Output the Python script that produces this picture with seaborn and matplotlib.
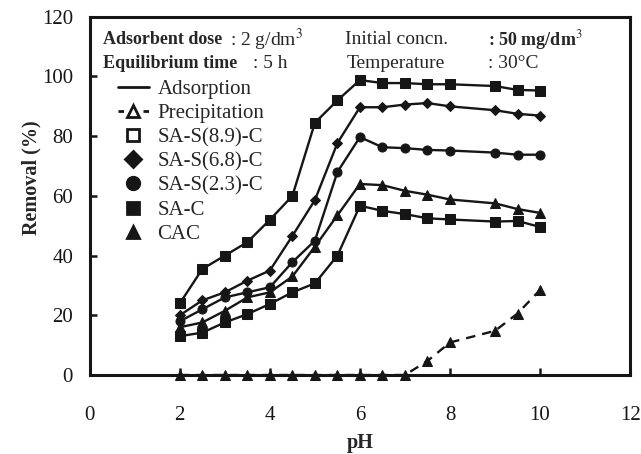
import matplotlib
matplotlib.use("Agg")
import matplotlib.pyplot as plt
from matplotlib.lines import Line2D
import seaborn as sns
import pandas as pd

# pH values where removal was measured
ph = [2, 2.5, 3, 3.5, 4, 4.5, 5, 5.5, 6, 6.5, 7, 7.5, 8, 9, 9.5, 10]

# adsorption curves (% removal)
sa_s89 = [24, 35.5, 40, 44.5, 52, 60, 84.5, 92, 98.8, 97.8, 97.8, 97.4, 97.4, 96.8, 95.5, 95.3]
sa_s68 = [20, 25, 27.7, 31.6, 35, 46.6, 58.6, 77.7, 89.7, 89.7, 90.6, 91.1, 90.0, 88.7, 87.5, 86.9]
sa_s23 = [18, 22, 26, 27.7, 29.4, 37.8, 45, 68, 79.7, 76.3, 76.0, 75.4, 75.2, 74.5, 73.8, 73.8]
cac = [16, 17.6, 21.5, 26, 27.7, 33, 43, 53.5, 64.0, 63.6, 61.7, 60.4, 58.8, 57.5, 55.6, 54.3]
sa_c = [13, 14.2, 17.6, 20.4, 23.8, 27.7, 30.7, 40, 56.7, 55.0, 53.9, 52.5, 52.1, 51.4, 51.6, 49.6]

# precipitation (no adsorbent)
precip = [0, 0, 0, 0, 0, 0, 0, 0, 0, 0, 0, 4.7, 10.9, 14.8, 20.6, 28.5]

names = ["SA-S(8.9)-C", "SA-S(6.8)-C", "SA-S(2.3)-C", "CAC", "SA-C"]
series = [sa_s89, sa_s68, sa_s23, cac, sa_c]
markers = ["s", "D", "o", "^", "s"]

legend_names = ["SA-S(8.9)-C", "SA-S(6.8)-C", "SA-S(2.3)-C", "SA-C", "CAC"]
legend_markers = ["s", "D", "o", "s", "^"]

ink = "#161616"

sns.set_style("ticks")
plt.rcParams["font.family"] = ["Liberation Serif", "DejaVu Serif"]
plt.rcParams["mathtext.fontset"] = "stix"

fig = plt.figure(figsize=(6.41, 4.54), dpi=100)
ax = fig.add_axes([0.140, 0.174, 0.843, 0.789])

for name, vals, mk in zip(names, series, markers):
    df = pd.DataFrame({"pH": ph, "Removal": vals})
    sns.lineplot(data=df, x="pH", y="Removal", ax=ax, color=ink, lw=1.7,
                 marker=mk, markersize=6.5 if mk != "D" else 5.5,
                 markeredgecolor=ink, markerfacecolor=ink)

df_p = pd.DataFrame({"pH": ph, "Removal": precip})
sns.lineplot(data=df_p, x="pH", y="Removal", ax=ax, color=ink, lw=1.7,
             linestyle=(0, (4, 3)), marker="^", markersize=6.5,
             markeredgecolor=ink, markerfacecolor=ink, clip_on=False)

ax.set_xlim(0, 12)
ax.set_ylim(0, 120)
ax.set_xticks(range(0, 13, 2))
ax.set_yticks(range(0, 121, 20))
for s in ax.spines.values():
    s.set_linewidth(2.2)
    s.set_color(ink)
    s.set_visible(True)
ax.tick_params(direction="in", length=5, width=1.8, colors=ink, labelsize=15)
ax.tick_params(axis="x", pad=22)
ax.tick_params(axis="y", pad=12)
ax.set_xlabel("pH", fontsize=14.5, fontweight="bold", labelpad=6)
ax.set_ylabel("Removal (%)", fontsize=14.5, fontweight="bold")
ax.yaxis.set_label_coords(-0.09, 0.55)

# conditions header
hdr = dict(transform=ax.transAxes, va="center", fontsize=14)
ax.text(0.024, 0.936, "Adsorbent dose", fontweight="bold", **dict(hdr, fontsize=13))
ax.text(0.259, 0.936, ": 2 g/dm$^3$", **hdr)
ax.text(0.472, 0.936, "Initial concn.", **hdr)
ax.text(0.737, 0.936, ": 50 mg/dm$^3$", fontweight="bold", **dict(hdr, fontsize=13))
ax.text(0.024, 0.871, "Equilibrium time", fontweight="bold", **dict(hdr, fontsize=13))
ax.text(0.302, 0.871, ": 5 h", **hdr)
ax.text(0.476, 0.871, "Temperature", **hdr)
ax.text(0.737, 0.871, ": 30\u00b0C", **hdr)

handles = [
    Line2D([], [], color=ink, lw=2.0),
    Line2D([], [], color=ink, lw=2.0, linestyle=(0, (2.0, 2.5)), marker="^",
           markersize=8, markerfacecolor="white", markeredgecolor=ink, markeredgewidth=2.0),
]
labels = ["Adsorption", "Precipitation"]
for nm, mk in zip(legend_names, legend_markers):
    open_face = nm == "SA-S(8.9)-C"
    handles.append(Line2D([], [], linestyle="none", marker=mk, color=ink,
                          markersize=9 if mk != "D" else 8,
                          markerfacecolor="white" if open_face else ink,
                          markeredgecolor=ink, markeredgewidth=2.0))
    labels.append(nm)

ax.legend(handles, labels, loc="upper left", bbox_to_anchor=(0.052, 0.825),
          frameon=False, fontsize=15, handlelength=1.5, handletextpad=0.4,
          labelspacing=0.22, borderpad=0, borderaxespad=0)

fig.savefig("out.png", dpi=100, facecolor="white")
